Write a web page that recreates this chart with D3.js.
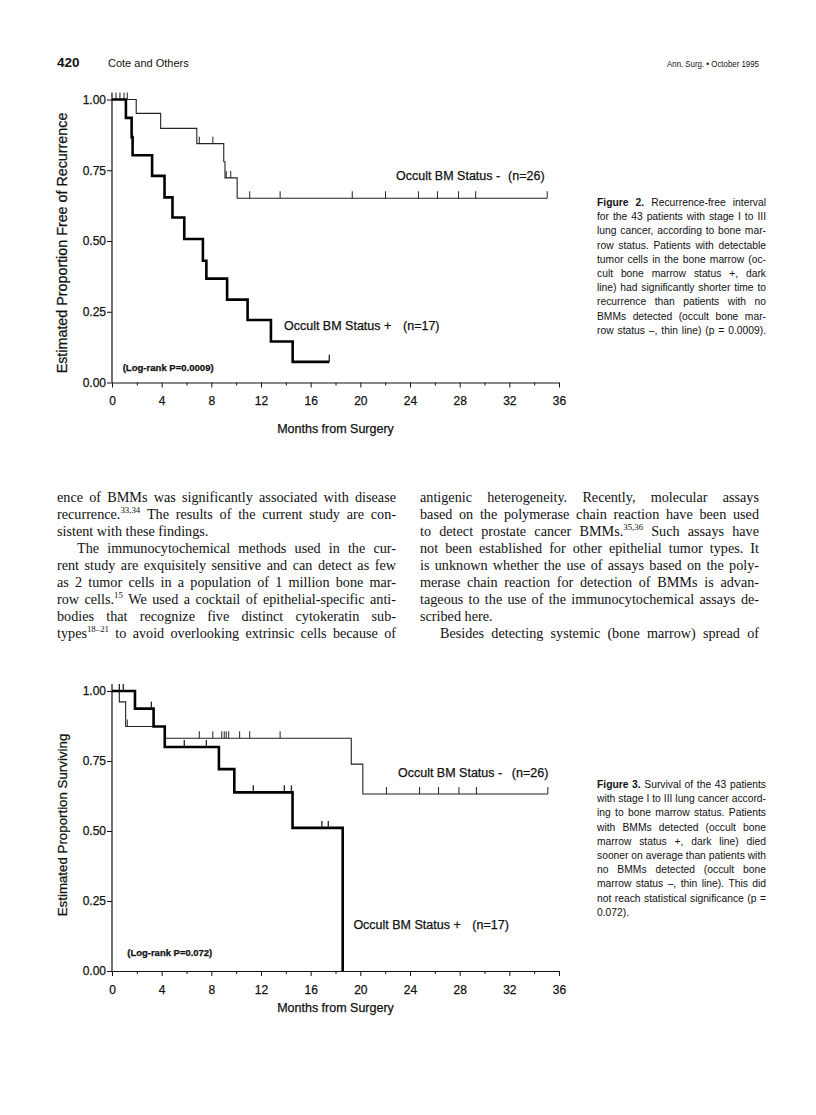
<!DOCTYPE html>
<html><head><meta charset="utf-8">
<script src="https://cdn.jsdelivr.net/npm/d3@7"></script>
<style>
html,body{margin:0;padding:0;background:#fff;}
svg{display:block;}
</style></head><body>
<svg id="page" width="816" height="1115"></svg>
<script>
// ================= DATA =================
const monthTicks = [0,4,8,12,16,20,24,28,32,36];
const monthMinorTicks = [2,6,10,14,18,22,26,30,34];
const propTicks = [0,0.25,0.5,0.75,1];
const xTitle = "Months from Surgery";

// Figure 2 : recurrence-free interval
const fig2NegTimes = [0,1.95,3.92,6.83,9.0,9.1,10.08];
const fig2NegSurv  = [1,0.951,0.898,0.844,0.78,0.723,0.651];
const fig2NegEnd = 35.05;
const fig2NegCensor = [0.32,0.64,0.97,1.23,7.03,8.12,9.2,9.56,11.09,13.54,19.35,22.03,24.68,26.21,27.91,29.29,35.05];
const fig2PosTimes = [0,1.12,1.58,1.66,3.23,4.23,4.87,5.82,7.32,7.6,9.27,10.92,12.8,14.55];
const fig2PosSurv  = [1,0.935,0.867,0.803,0.73,0.654,0.583,0.507,0.43,0.367,0.293,0.221,0.145,0.073];
const fig2PosEnd = 17.5;
const fig2PosCensor = [17.5];
const fig2YTitle = "Estimated Proportion Free of Recurrence";
const fig2LogRank = "(Log-rank P=0.0009)";

// Figure 3 : survival
const fig3NegTimes = [0,0.59,1.1,4.25,19.27,20.2];
const fig3NegSurv  = [1,0.961,0.873,0.831,0.739,0.632];
const fig3NegEnd = 35.1;
const fig3NegCensor = [1.23,7.03,8.12,8.84,9.04,9.2,9.4,10.28,11.09,13.54,22.1,24.77,26.3,27.94,29.35,35.1];
const fig3PosTimes = [0,1.85,3.35,4.25,8.61,9.85,14.54,18.58];
const fig3PosSurv  = [1,0.937,0.873,0.80,0.721,0.638,0.511,0];
const fig3PosEnd = 18.58;
const fig3PosCensor = [0.59,0.91,3.17,5.82,7.6,11.38,13.88,14.45,16.9,17.42];
const fig3YTitle = "Estimated Proportion Surviving";
const fig3LogRank = "(Log-rank P=0.072)";

const negLabel = ["Occult BM Status -", "(n=26)"];
const posLabel = ["Occult BM Status +", "(n=17)"];

// Text
const headerLeftNum = "420";
const headerLeftText = "Cote and Others";
const headerRight = "Ann. Surg. \u2022 October 1995";

const leftColumnLines = [
 "ence of BMMs was significantly associated with disease",
 "recurrence.^33,34 The results of the current study are con-",
 "sistent with these findings.",
 "The immunocytochemical methods used in the cur-",
 "rent study are exquisitely sensitive and can detect as few",
 "as 2 tumor cells in a population of 1 million bone mar-",
 "row cells.^15 We used a cocktail of epithelial-specific anti-",
 "bodies that recognize five distinct cytokeratin sub-",
 "types^18\u201321 to avoid overlooking extrinsic cells because of"
];
const leftColumnIndent = [0,0,0,1,0,0,0,0,0];
const leftColumnRagged = [0,0,1,0,0,0,0,0,0];
const rightColumnLines = [
 "antigenic heterogeneity. Recently, molecular assays",
 "based on the polymerase chain reaction have been used",
 "to detect prostate cancer BMMs.^35,36 Such assays have",
 "not been established for other epithelial tumor types. It",
 "is unknown whether the use of assays based on the poly-",
 "merase chain reaction for detection of BMMs is advan-",
 "tageous to the use of the immunocytochemical assays de-",
 "scribed here.",
 "Besides detecting systemic (bone marrow) spread of"
];
const rightColumnIndent = [0,0,0,0,0,0,0,0,1];
const rightColumnRagged = [0,0,0,0,0,0,0,1,0];

const caption2Lines = [
 "*Figure *2. Recurrence-free interval",
 "for the 43 patients with stage I to III",
 "lung cancer, according to bone mar-",
 "row status. Patients with detectable",
 "tumor cells in the bone marrow (oc-",
 "cult bone marrow status +, dark",
 "line) had significantly shorter time to",
 "recurrence than patients with no",
 "BMMs detected (occult bone mar-",
 "row status \u2013, thin line) (p = 0.0009)."
];
const caption2Ragged = [0,0,0,0,0,0,0,0,0,0];
const caption3Lines = [
 "*Figure *3. Survival of the 43 patients",
 "with stage I to III lung cancer accord-",
 "ing to bone marrow status. Patients",
 "with BMMs detected (occult bone",
 "marrow status +, dark line) died",
 "sooner on average than patients with",
 "no BMMs detected (occult bone",
 "marrow status \u2013, thin line). This did",
 "not reach statistical significance (p =",
 "0.072)."
];
const caption3Ragged = [0,0,0,0,0,0,0,0,0,1];

// ================= DRAW =================
const SANS = "'Liberation Sans', Arial, Helvetica, sans-serif";
const SERIF = "'Liberation Serif', 'Times New Roman', serif";
const INK = "#111";
const svg = d3.select("#page");
svg.append("rect").attr("width",816).attr("height",1115).attr("fill","#fff");

const x = d3.scaleLinear().domain([0,36]).range([112,559]);

function stepVal(times, surv, t){
  let v = surv[0];
  for(let i=0;i<times.length;i++){ if(times[i] <= t) v = surv[i]; }
  return v;
}
const ink = s => s.attr("fill",INK).attr("stroke",INK).attr("stroke-width",0.25);

function drawChart(o){
  const y = d3.scaleLinear().domain([0,1]).range([o.yBottom, o.yTop]);
  const g = svg.append("g");

  g.append("g").attr("transform",`translate(0,${o.yBottom})`)
    .call(d3.axisBottom(x).tickValues(monthMinorTicks).tickSize(3).tickFormat(""))
    .call(s=>s.select(".domain").remove())
    .call(s=>s.selectAll("line").attr("stroke",INK).attr("stroke-width",1));
  g.append("g").attr("transform",`translate(0,${o.yBottom})`)
    .call(d3.axisBottom(x).tickValues(monthTicks).tickSize(5).tickSizeOuter(0).tickPadding(9).tickFormat(d3.format("d")))
    .call(s=>s.select(".domain").attr("stroke",INK).attr("stroke-width",1.2))
    .call(s=>s.selectAll("line").attr("stroke",INK).attr("stroke-width",1))
    .call(s=>ink(s.selectAll("text")).attr("font-family",SANS).attr("font-size",12));
  g.append("g").attr("transform",`translate(${x(0)},0)`)
    .call(d3.axisLeft(y).tickValues(propTicks).tickSize(5).tickPadding(1).tickFormat(d3.format(".2f")))
    .call(s=>s.select(".domain").remove())
    .call(s=>s.selectAll("line").attr("stroke",INK).attr("stroke-width",1))
    .call(s=>ink(s.selectAll("text")).attr("font-family",SANS).attr("font-size",12));
  g.append("line").attr("x1",x(0)).attr("x2",x(0)).attr("y1",y(0)).attr("y2",y(1)-7)
    .attr("stroke",INK).attr("stroke-width",1.2);

  ink(g.append("text")).attr("x",(x(0)+x(36))/2).attr("y",o.yBottom+o.xTitleOff)
    .attr("text-anchor","middle").attr("font-family",SANS).attr("font-size",12.5).text(xTitle);
  ink(g.append("text")).attr("transform",`translate(67,${o.yTitleCenter}) rotate(-90)`)
    .attr("text-anchor","middle").attr("font-family",SANS).attr("font-size",o.yTitleSize).text(o.yTitle);

  const line = d3.line().x(d=>x(d[0])).y(d=>y(d[1])).curve(d3.curveStepAfter);
  function curve(times, surv, end, censor, width){
    const pts = times.map((t,i)=>[t,surv[i]]);
    if(end > times[times.length-1]) pts.push([end, surv[surv.length-1]]);
    g.append("path").attr("d",line(pts)).attr("fill","none").attr("stroke",width>2?"#000":"#222")
      .attr("stroke-width",width).attr("stroke-linejoin","miter").attr("stroke-linecap","butt");
    g.selectAll(null).data(censor).enter().append("line")
      .attr("x1",d=>x(d)).attr("x2",d=>x(d))
      .attr("y1",d=>y(stepVal(times,surv,d))).attr("y2",d=>y(stepVal(times,surv,d))-7)
      .attr("stroke","#222").attr("stroke-width",width>2?1.3:1);
  }
  curve(o.negT,o.negS,o.negEnd,o.negC,1.1);
  curve(o.posT,o.posS,o.posEnd,o.posC,2.6);

  const lab = (t,p,txt,size,weight,len)=>{
    const e = ink(g.append("text")).attr("x",x(t)).attr("y",y(p)+size*0.36)
      .attr("font-family",SANS).attr("font-size",size).attr("font-weight",weight||null).text(txt);
    if(len) e.attr("textLength",len).attr("lengthAdjust","spacingAndGlyphs");
  };
  lab(o.negLab[0],o.negLab[1],negLabel[0],12.5);
  lab(o.negLab[2],o.negLab[1],negLabel[1],12.5);
  lab(o.posLab[0],o.posLab[1],posLabel[0],12.5);
  lab(o.posLab[2],o.posLab[1],posLabel[1],12.5);
  lab(o.lr[0],o.lr[1],o.lrText,9.5,"bold",o.lr[2]);
}

drawChart({yBottom:382.5,yTop:99.5,xTitleOff:50,yTitle:fig2YTitle,yTitleCenter:243,yTitleSize:14.3,
  negT:fig2NegTimes,negS:fig2NegSurv,negEnd:fig2NegEnd,negC:fig2NegCensor,
  posT:fig2PosTimes,posS:fig2PosSurv,posEnd:fig2PosEnd,posC:fig2PosCensor,
  negLab:[22.87,0.731,31.9], posLab:[13.85,0.2,23.44], lr:[0.86,0.054,91], lrText:fig2LogRank});

drawChart({yBottom:971,yTop:691,xTitleOff:41,yTitle:fig3YTitle,yTitleCenter:825,yTitleSize:13.3,
  negT:fig3NegTimes,negS:fig3NegSurv,negEnd:fig3NegEnd,negC:fig3NegCensor,
  posT:fig3PosTimes,posS:fig3PosSurv,posEnd:fig3PosEnd,posC:fig3PosCensor,
  negLab:[23.03,0.709,32.2], posLab:[19.44,0.167,29.02], lr:[1.23,0.065,85], lrText:fig3LogRank});

// ---------- header ----------
svg.append("text").attr("x",57).attr("y",66.7).attr("font-family",SANS).attr("font-weight","bold")
  .attr("font-size",13.5).attr("fill",INK).text(headerLeftNum);
svg.append("text").attr("x",108).attr("y",66.7).attr("font-family",SANS)
  .attr("font-size",11).attr("fill",INK).text(headerLeftText);
svg.append("text").attr("x",759).attr("y",67).attr("text-anchor","end").attr("font-family",SANS)
  .attr("font-size",9.5).attr("fill",INK).attr("textLength",92).attr("lengthAdjust","spacingAndGlyphs").text(headerRight);

// ---------- justified text ----------
const meas = svg.append("text").attr("visibility","hidden");
function fillToken(sel, tok, size){
  let bold = false;
  if(tok.startsWith("*")){ bold = true; tok = tok.slice(1); }
  const parts = tok.split("^");
  sel.append("tspan").attr("font-weight", bold ? "bold" : null).text(parts[0]);
  if(parts.length > 1){
    sel.append("tspan").attr("font-size", size*0.62).attr("dy", -size*0.38).text(parts[1]);
  }
}
function drawBlock(lines, ragged, indent, o){
  lines.forEach((ln,i)=>{
    const toks = ln.split(" ");
    meas.attr("font-family",o.font).attr("font-size",o.size);
    const widths = toks.map(t=>{ meas.selectAll("*").remove(); meas.text(null); fillToken(meas,t,o.size); return meas.node().getComputedTextLength(); });
    const ind = (indent && indent[i]) ? o.indent : 0;
    const total = d3.sum(widths);
    let gap = o.size*o.spaceEm;
    if(!(ragged && ragged[i]) && toks.length>1) gap = (o.width - ind - total)/(toks.length-1);
    let cx = o.x + ind;
    const yy = o.y + i*o.lead;
    toks.forEach((t,k)=>{
      const e = svg.append("text").attr("x",cx).attr("y",yy).attr("font-family",o.font)
        .attr("font-size",o.size).attr("fill",INK);
      fillToken(e,t,o.size);
      cx += widths[k] + gap;
    });
  });
}
const bodyOpt = {font:SERIF,size:14.2,spaceEm:0.25,lead:17,indent:20,width:339};
drawBlock(leftColumnLines,leftColumnRagged,leftColumnIndent,Object.assign({},bodyOpt,{x:57,y:501.5}));
drawBlock(rightColumnLines,rightColumnRagged,rightColumnIndent,Object.assign({},bodyOpt,{x:420,y:501.5}));

const capOpt = {font:SANS,size:10.3,spaceEm:0.278,lead:14.2,indent:0,width:169,x:597};
drawBlock(caption2Lines,caption2Ragged,null,Object.assign({},capOpt,{y:206}));
drawBlock(caption3Lines,caption3Ragged,null,Object.assign({},capOpt,{y:788}));
meas.remove();
</script>
</body></html>
